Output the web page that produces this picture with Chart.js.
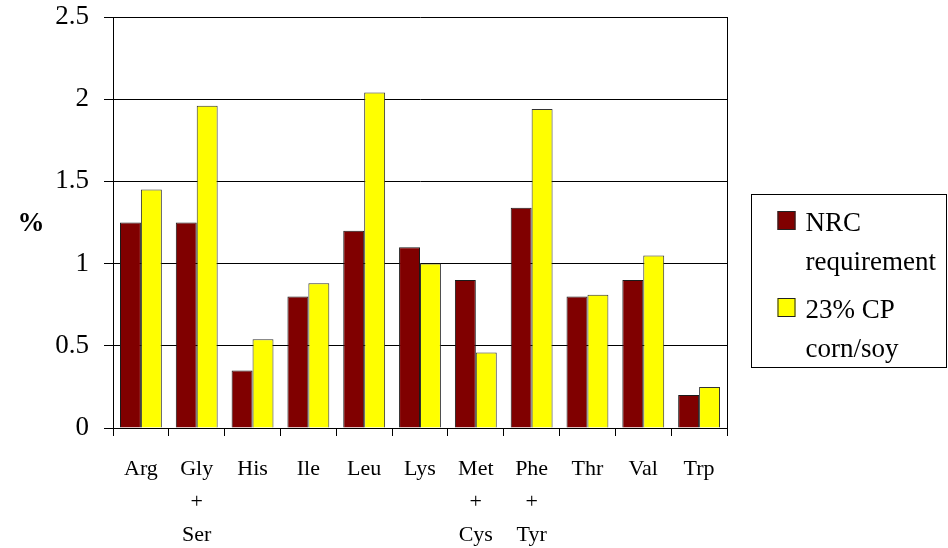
<!DOCTYPE html>
<html>
<head>
<meta charset="utf-8">
<script src="https://cdn.jsdelivr.net/npm/chart.js@4/dist/chart.umd.min.js"></script>
<style>
  html, body { margin: 0; padding: 0; background: #fff; }
  #wrap { width: 948px; height: 548px; }
</style>
</head>
<body>
<div id="wrap"><canvas id="c" width="948" height="548"></canvas></div>
<script>
// Amino acids (multi-line category labels)
const categories = [
  'Arg', ['Gly', '+', 'Ser'], 'His', 'Ile', 'Leu', 'Lys',
  ['Met', '+', 'Cys'], ['Phe', '+', 'Tyr'], 'Thr', 'Val', 'Trp'
];

// Requirement vs. diet supply, % of diet
const nrcRequirement = [1.25, 1.25, 0.35, 0.80, 1.20, 1.10, 0.90, 1.34, 0.80, 0.90, 0.20];
const cornSoyDiet    = [1.45, 1.96, 0.54, 0.88, 2.04, 1.00, 0.46, 1.94, 0.81, 1.05, 0.25];

const seriesLabels = [['NRC', 'requirement'], ['23% CP', 'corn/soy']];
const seriesColors = ['#800000', '#FFFF00'];

const yTicks = { min: 0, max: 2.5, step: 0.5 };
const yAxisTitle = '%';

const SERIF = '"Liberation Serif", "Times New Roman", serif';

// Right-hand edge of the plot frame
const frame = {
  id: 'frame',
  beforeDatasetsDraw(chart) {
    const { ctx, chartArea: a } = chart;
    ctx.save();
    ctx.strokeStyle = '#000';
    ctx.lineWidth = 1;
    ctx.beginPath();
    ctx.moveTo(Math.round(a.right) + 0.5, a.top);
    ctx.lineTo(Math.round(a.right) + 0.5, a.bottom);
    ctx.stroke();
    ctx.restore();
  }
};

// Horizontal "%" axis title and the boxed legend on the right
const extras = {
  id: 'extras',
  afterDraw(chart) {
    const { ctx, chartArea: a } = chart;
    ctx.save();
    ctx.fillStyle = '#000';
    ctx.font = 'bold 27px ' + SERIF;
    ctx.textAlign = 'center';
    ctx.textBaseline = 'middle';
    ctx.fillText(yAxisTitle, 31, 224);

    const bx = Math.round(a.right) + 24.5, by = 194.5, bw = 195, bh = 173;
    ctx.strokeStyle = '#000';
    ctx.lineWidth = 1;
    ctx.strokeRect(bx, by, bw, bh);

    ctx.font = '27px ' + SERIF;
    ctx.textAlign = 'left';
    ctx.textBaseline = 'alphabetic';
    const itemTop = [211, 298];
    const lineGap = 39;
    chart.data.datasets.forEach((ds, i) => {
      const top = itemTop[i];
      ctx.fillStyle = ds.backgroundColor;
      ctx.fillRect(bx + 26, top, 18, 19);
      ctx.strokeStyle = '#222';
      ctx.strokeRect(bx + 26 + 0.5, top + 0.5, 17, 18);
      ctx.fillStyle = '#000';
      seriesLabels[i].forEach((line, j) => {
        ctx.fillText(line, bx + 54, top + 20 + j * lineGap);
      });
    });
    ctx.restore();
  }
};

new Chart(document.getElementById('c'), {
  type: 'bar',
  data: {
    labels: categories,
    datasets: [
      { label: seriesLabels[0].join(' '), data: nrcRequirement,
        backgroundColor: seriesColors[0], borderColor: '#1a1a1a', borderWidth: 1 },
      { label: seriesLabels[1].join(' '), data: cornSoyDiet,
        backgroundColor: seriesColors[1], borderColor: '#333', borderWidth: 1 }
    ]
  },
  options: {
    responsive: false,
    animation: false,
    layout: { padding: { left: 0, top: 17, right: 221, bottom: 0 } },
    datasets: { bar: { categoryPercentage: 0.75, barPercentage: 1.0 } },
    plugins: { legend: { display: false }, tooltip: { enabled: false } },
    scales: {
      x: {
        grid: { display: true, drawOnChartArea: false, drawTicks: true,
                tickLength: 8, color: '#000', offset: true },
        border: { color: '#000', width: 1 },
        ticks: { color: '#000', padding: 17, autoSkip: false, maxRotation: 0,
                 font: { family: SERIF, size: 22, lineHeight: 1.5 } },
        afterFit(scale) { scale.height = 120; }
      },
      y: {
        min: yTicks.min, max: yTicks.max,
        grid: { color: '#000', tickLength: 9, drawTicks: true },
        border: { color: '#000', width: 1 },
        ticks: { stepSize: yTicks.step, color: '#000', padding: 15,
                 font: { family: SERIF, size: 27 },
                 callback: v => String(Math.round(v * 10) / 10) },
        afterFit(scale) {
          scale.width = 113;
          scale.paddingTop = 0;
          scale.paddingBottom = 0;
        }
      }
    }
  },
  plugins: [frame, extras]
});
</script>
</body>
</html>
